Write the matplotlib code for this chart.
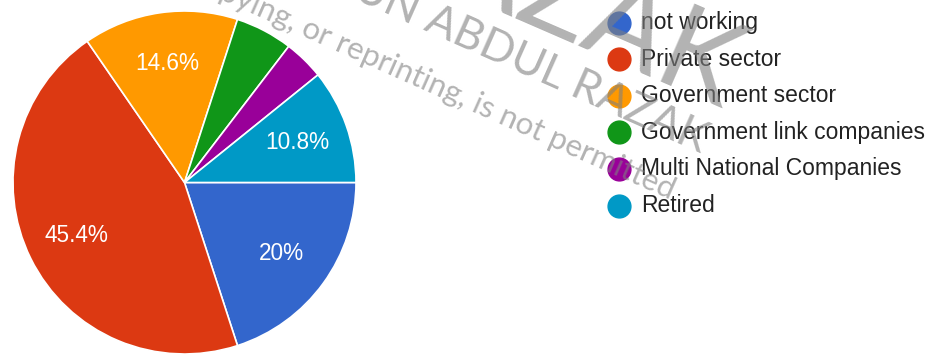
import numpy as np
import matplotlib.pyplot as plt

# ---------------------------
# Data
# ---------------------------
labels = ["not working", "Private sector", "Government sector",
          "Government link companies", "Multi National Companies", "Retired"]
percent = [20, 45.4, 14.6, 5.4, 3.8, 10.8]
colors = ["#3366cc", "#dc3912", "#ff9900", "#109618", "#990099", "#0099c6"]

W, H = 933, 354
fig = plt.figure(figsize=(W / 100, H / 100), dpi=100)
fig.patch.set_facecolor("white")

# ---------------------------
# Pie
# ---------------------------
ax = fig.add_axes([13 / W, 0 / H, 343 / W, 343 / H])
wedges, _ = ax.pie(percent, colors=colors, startangle=0, counterclock=False,
                   wedgeprops=dict(edgecolor="white", linewidth=1.2))
ax.set_xlim(-1, 1)
ax.set_ylim(-1, 1)
ax.set_aspect("equal")
ax.axis("off")

# percentage labels only on the bigger slices
for w, p in zip(wedges, percent):
    if p < 10:
        continue
    mid = np.deg2rad((w.theta1 + w.theta2) / 2)
    ax.text(0.7 * np.cos(mid), 0.7 * np.sin(mid), f"{p:g}%", color="white",
            fontsize=16.3, family="Liberation Sans", ha="center", va="center")

# ---------------------------
# Legend + watermark, drawn in pixel coordinates
# ---------------------------
ov = fig.add_axes([0, 0, 1, 1])
ov.set_xlim(0, W)
ov.set_ylim(H, 0)
ov.axis("off")
ov.patch.set_alpha(0)

y0, step = 22.5, 36.6
for i, (lab, c) in enumerate(zip(labels, colors)):
    y = y0 + i * step
    ov.scatter(619, y, s=270, color=c, zorder=3)
    ov.text(641, y, lab, fontsize=16.5, family="Liberation Sans", color="#222222",
            ha="left", va="center", zorder=4)

wm = dict(family="Lato", color="#808080", alpha=0.6, rotation_mode="anchor",
          ha="right", va="baseline", zorder=5)
ov.text(670, 200, "Copying, or reprinting, is not permitted", fontsize=22.5,
        rotation=-24, **wm)
ov.text(700, 153, "TUN ABDUL RAZAK", fontsize=32, rotation=-24, **wm)
ov.text(722, 112, "RAZAK", fontsize=85, rotation=-23.5, **wm)

fig.savefig("out.png", dpi=100)
